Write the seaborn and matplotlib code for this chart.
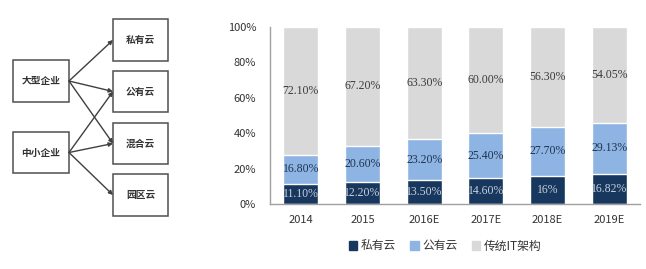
import matplotlib
matplotlib.use("Agg")
import matplotlib.pyplot as plt
import seaborn as sns
import pandas as pd
import numpy as np
from matplotlib.patches import Rectangle, FancyArrowPatch, Patch

sns.set_theme(style="white")
plt.rcParams['font.family'] = ['Noto Sans CJK SC', 'DejaVu Sans']

years = ["2014", "2015", "2016E", "2017E", "2018E", "2019E"]
private = [11.10, 12.20, 13.50, 14.60, 16.00, 16.82]
public = [16.80, 20.60, 23.20, 25.40, 27.70, 29.13]
traditional = [72.10, 67.20, 63.30, 60.00, 56.30, 54.05]
private_labels = ["11.10%", "12.20%", "13.50%", "14.60%", "16%", "16.82%"]
public_labels = ["16.80%", "20.60%", "23.20%", "25.40%", "27.70%", "29.13%"]
trad_labels = ["72.10%", "67.20%", "63.30%", "60.00%", "56.30%", "54.05%"]
series_names = ["私有云", "公有云", "传统IT架构"]
enterprise = ["大型企业", "中小企业"]
clouds = ["私有云", "公有云", "混合云", "园区云"]
links = [(0, 0), (0, 1), (0, 2), (1, 1), (1, 2), (1, 3)]

c_dark = "#17375e"
c_light = "#8db4e2"
c_gray = "#d9d9d9"

W, H = 646, 269
fig = plt.figure(figsize=(W / 100, H / 100), dpi=100)

# ---- diagram ----
dax = fig.add_axes([0, 0, 1, 1])
dax.set_xlim(0, W)
dax.set_ylim(H, 0)
dax.axis("off")
ent_boxes = [(13, 60, 56, 42), (13, 132, 56, 41)]
cloud_boxes = [(113, 19, 55, 42), (113, 71, 55, 41), (113, 123, 55, 41), (113, 174, 55, 42)]
for (x, y, w, h), t in zip(ent_boxes, enterprise):
    dax.add_patch(Rectangle((x, y), w, h, fill=False, ec="#505050", lw=1.1))
    dax.text(x + w / 2, y + h / 2, t, ha="center", va="center", fontsize=7, color="#333333", fontweight="bold")
for (x, y, w, h), t in zip(cloud_boxes, clouds):
    dax.add_patch(Rectangle((x, y), w, h, fill=False, ec="#505050", lw=1.1))
    dax.text(x + w / 2, y + h / 2, t, ha="center", va="center", fontsize=7, color="#333333", fontweight="bold")
for e, c in links:
    ex, ey, ew, eh = ent_boxes[e]
    cx, cy, cw, ch = cloud_boxes[c]
    start = (ex + ew, ey + eh / 2)
    end = (cx, cy + ch / 2)
    dax.add_patch(FancyArrowPatch(start, end, arrowstyle="-|>", mutation_scale=6,
                                  color="#404040", lw=1.0, shrinkA=0, shrinkB=0))

# ---- stacked bar chart ----
ax = fig.add_axes([270 / W, 1 - 204 / H, 370 / W, (204 - 27) / H])
df = pd.DataFrame({"year": years, "private": private, "public": public, "trad": traditional})
df["total"] = df["private"] + df["public"] + df["trad"]
df["pp"] = df["private"] + df["public"]

bw = 0.57
sns.barplot(data=df, x="year", y="total", color=c_gray, width=bw, ax=ax, saturation=1)
sns.barplot(data=df, x="year", y="pp", color=c_light, width=bw, ax=ax, saturation=1)
sns.barplot(data=df, x="year", y="private", color=c_dark, width=bw, ax=ax, saturation=1)

lbl_font = dict(fontsize=8.5, family=["Liberation Serif", "DejaVu Serif"])
for i in range(len(years)):
    ax.text(i, private[i] / 2, private_labels[i], ha="center", va="center", color="#c9d1dc", **lbl_font)
    ax.text(i, private[i] + public[i] / 2, public_labels[i], ha="center", va="center", color="#1f3350", **lbl_font)
    ax.text(i, private[i] + public[i] + traditional[i] / 2, trad_labels[i], ha="center", va="center", color="#3a3a3a", **lbl_font)

ax.set_xlim(-0.5, 5.5)
ax.set_ylim(0, 100)
ax.set_yticks([0, 20, 40, 60, 80, 100])
ax.set_yticklabels(["0%", "20%", "40%", "60%", "80%", "100%"])
ax.set_xlabel("")
ax.set_ylabel("")
ax.tick_params(axis="both", length=0, labelsize=8, colors="#333333")
ax.tick_params(axis="y", pad=10)
ax.tick_params(axis="x", pad=8)
for s in ["top", "right"]:
    ax.spines[s].set_visible(False)
for s in ["left", "bottom"]:
    ax.spines[s].set_color("#a0a0a0")
    ax.spines[s].set_linewidth(1.0)

handles = [Patch(color=c_dark), Patch(color=c_light), Patch(color=c_gray)]
fig.legend(handles, series_names, loc="center", bbox_to_anchor=(445 / W, 1 - 246 / H), ncol=3,
           frameon=False, fontsize=8.5, handlelength=0.7, handleheight=0.7, handletextpad=0.3,
           columnspacing=1.2, labelcolor="#333333")

fig.savefig("out.png", dpi=100, facecolor="white")
